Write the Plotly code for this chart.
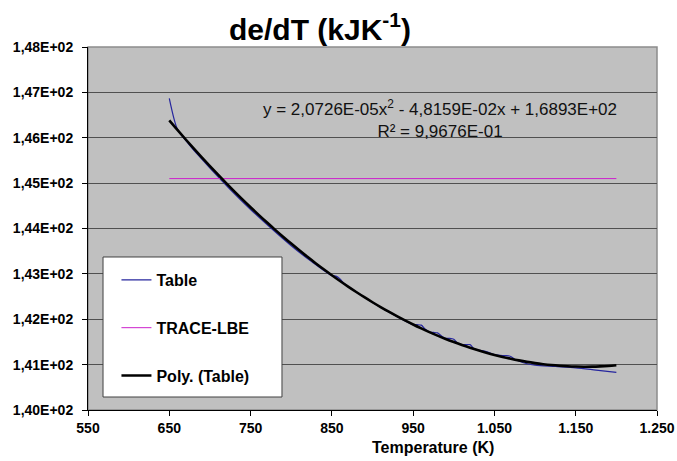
import plotly.graph_objects as go

# Temperature grid of the tabulated property (K)
table_T = [650, 660, 670, 680, 690, 700, 725, 750, 775, 800, 825, 850, 855, 860, 865,
           875, 900, 925, 950, 955, 960, 965, 970, 975, 980, 985, 990, 995, 1000,
           1005, 1010, 1015, 1020, 1025, 1030, 1040, 1050, 1060, 1065, 1070, 1075,
           1080, 1090, 1100, 1125, 1150, 1175, 1200]
# de/dT from the property table (kJ/K)
table_v = [146.87, 146.19, 145.95, 145.73, 145.53, 145.33, 144.86, 144.42, 144.01,
           143.62, 143.27, 142.96, 142.95, 142.89, 142.79, 142.66, 142.37, 142.11,
           141.88, 141.88, 141.87, 141.78, 141.72, 141.71, 141.70, 141.63, 141.58,
           141.58, 141.56, 141.47, 141.44, 141.44, 141.44, 141.35, 141.32, 141.29,
           141.22, 141.20, 141.20, 141.18, 141.12, 141.08, 141.02, 140.99, 140.96,
           140.93, 140.88, 140.83]

# TRACE-LBE correlation (constant value)
trace_T = [650, 1200]
trace_v = [145.1, 145.1]

# Quadratic trendline of the table data: a*x^2 + b*x + c
poly_coef = [2.0726e-05, -4.8159e-02, 1.6893e+02]
poly_T = list(range(650, 1201, 10))
poly_v = [poly_coef[0] * t * t + poly_coef[1] * t + poly_coef[2] for t in poly_T]

x_ticks = [550, 650, 750, 850, 950, 1050, 1150, 1250]
x_tick_labels = ["550", "650", "750", "850", "950", "1.050", "1.150", "1.250"]
y_ticks = [140, 141, 142, 143, 144, 145, 146, 147, 148]
y_tick_labels = ["1,40E+02", "1,41E+02", "1,42E+02", "1,43E+02", "1,44E+02",
                 "1,45E+02", "1,46E+02", "1,47E+02", "1,48E+02"]

FONT = "Liberation Sans, Arial, sans-serif"

fig = go.Figure()
fig.add_trace(go.Scatter(x=table_T, y=table_v, name="Table", mode="lines",
                         line=dict(color="#26269E", width=1.2, shape="spline", smoothing=0.8),
                         legendgroup="a"))
fig.add_trace(go.Scatter(x=trace_T, y=trace_v, name="TRACE-LBE", mode="lines",
                         line=dict(color="#CC22CC", width=1), legendgroup="b"))
fig.add_trace(go.Scatter(x=poly_T, y=poly_v, name="Poly. (Table)", mode="lines",
                         line=dict(color="#000000", width=2.6, shape="spline"),
                         legendgroup="c"))

fig.update_layout(
    width=677, height=461,
    margin=dict(l=88, r=20, t=47, b=51),
    paper_bgcolor="white",
    plot_bgcolor="#C0C0C0",
    font=dict(family=FONT, color="black"),
    title=dict(text="de/dT (kJK<sup>-1</sup>)", x=320 / 677, xref="container",
               xanchor="center", y=1 - 29 / 461, yanchor="middle",
               font=dict(size=30, weight="bold", family=FONT)),
    showlegend=True,
    legend=dict(x=0.05, y=0.405, xanchor="left", yanchor="top",
                bgcolor="rgba(0,0,0,0)", borderwidth=0,
                traceorder="grouped", tracegroupgap=24,
                font=dict(size=16, weight="bold", family=FONT)),
    xaxis=dict(range=[550, 1250], tickvals=x_ticks, ticktext=x_tick_labels,
               showgrid=False, zeroline=False, showline=True, linecolor="black",
               linewidth=1, ticks="outside", ticklen=5, tickcolor="black",
               automargin=False,
               tickfont=dict(size=14, weight="bold", family=FONT)),
    yaxis=dict(range=[140, 148], tickvals=y_ticks, ticktext=y_tick_labels,
               showgrid=True, gridcolor="#505050", gridwidth=1, zeroline=False,
               showline=True, linecolor="black", linewidth=1, ticks="outside",
               ticklen=5, tickcolor="black", ticklabelstandoff=6, automargin=False,
               tickfont=dict(size=14, weight="bold", family=FONT)),
    shapes=[
        # plot-area frame (top and right edges)
        dict(type="rect", xref="paper", yref="paper", x0=0, x1=1, y0=0, y1=1,
             line=dict(color="#8C8C8C", width=1.5), layer="below"),
        # legend box
        dict(type="rect", xref="paper", yref="paper", x0=0.0264, x1=0.3409,
             y0=0.0358, y1=0.4215, fillcolor="white",
             line=dict(color="#404040", width=1), layer="above"),
    ],
    annotations=[
        dict(text="y = 2,0726E-05x<sup>2</sup> - 4,8159E-02x + 1,6893E+02<br>R² = 9,9676E-01",
             xref="paper", yref="paper", x=0.618, y=0.8017, xanchor="center",
             yanchor="middle", showarrow=False, align="center",
             font=dict(size=17, family=FONT, color="#111111")),
        dict(text="Temperature (K)", xref="paper", yref="paper", x=0.606,
             y=-0.102, xanchor="center", yanchor="middle", showarrow=False,
             font=dict(size=16, weight="bold", family=FONT)),
    ],
)

fig.write_html("out.html")
